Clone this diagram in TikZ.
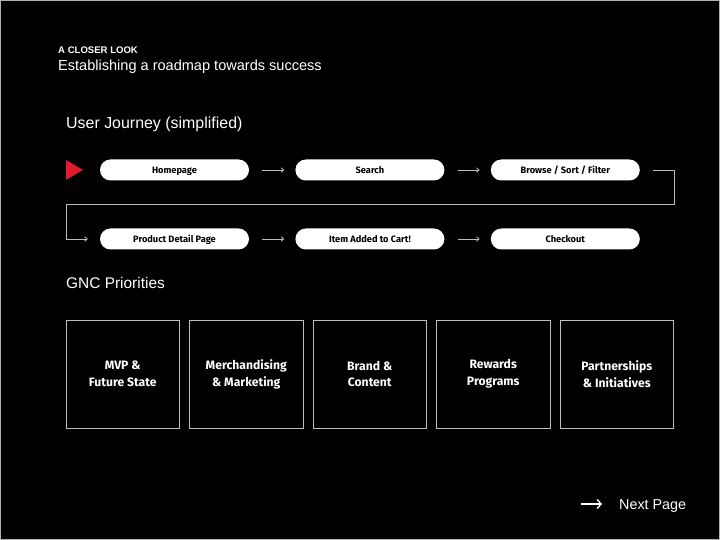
\documentclass[tikz,border=0pt]{standalone}
\usepackage{fontspec}
\setmainfont{Liberation Sans}
\newfontfamily\pillfont{Fira Sans}
\usetikzlibrary{positioning,arrows.meta}
\definecolor{gncred}{HTML}{E3192D}
\definecolor{linegray}{HTML}{BDBDBD}

\begin{document}
\begin{tikzpicture}[x=1bp,y=1bp,>={Straight Barb[length=2.5bp,width=4.5bp]},node distance=46bp,
    pill/.style={fill=white,rounded corners=10.5bp,minimum width=149bp,minimum height=21bp,inner sep=0pt,text height=6.4bp,text depth=0bp,font=\pillfont\bfseries\fontsize{9.3}{10}\selectfont},
    prio/.style={draw=linegray,line width=0.9bp,minimum width=113.5bp,minimum height=108bp,inner sep=0pt,align=center,text=white,font=\pillfont\bfseries\fontsize{12.2}{17}\selectfont},
    title/.style={anchor=base west,inner sep=0pt,text=white}]
            \fill[black] (0,0) rectangle (720,540);
            \draw[gray!60,line width=1bp] (0.5,0.5) rectangle (719.5,539.5);

            \node[title,font=\bfseries\fontsize{9.6}{11}\selectfont] (kicker) at (58,486) {A CLOSER LOOK};
            \node[title,font=\fontsize{14.6}{17}\selectfont] (sub) at (58,469) {Establishing a roadmap towards success};
            \node[title,font=\fontsize{16}{19}\selectfont] (uj) at (66,411) {User Journey (simplified)};
            \node[title,font=\fontsize{15.5}{18}\selectfont] (gnc) at (66,251) {GNC Priorities};

            % journey, first row
            \fill[gncred] (66,380) -- (83,370) -- (66,360) -- cycle;
            \node[pill] (hp) at (174.5,370) {Homepage};
            \node[pill] (sr) [right=of hp] {Search};
            \node[pill] (bs) [right=of sr] {Browse / Sort / Filter};

            % journey, second row
            \node[pill] (pd) at (174.5,301) {Product Detail Page};
            \node[pill] (ic) [right=of pd] {Item Added to Cart!};
            \node[pill] (co) [right=of ic] {Checkout};

            \coordinate (wrap) at (66,336);

            \path[->,draw=linegray,line width=0.8bp,shorten <=13bp,shorten >=11bp]
                (hp) edge (sr)
                (sr) edge (bs)
                (pd) edge (ic)
                (ic) edge (co)
                ;
            \draw[->,linegray,line width=0.8bp,shorten <=13bp,shorten >=12bp]
                (bs.east) -| ([xshift=34bp]bs.east |- wrap) -- (wrap) |- (pd.west);

            % priorities
            \node[prio] (mvp) at (122.75,166) {MVP \&\\Future State};
            \node[prio] (mm) [right=9.1bp of mvp] {Merchandising\\\& Marketing};
            \node[prio] (bc) [right=9.1bp of mm] {Brand \&\\Content};
            \node[prio] (rp) [right=9.1bp of bc] {Rewards\\Programs};
            \node[prio] (pi) [right=9.1bp of rp] {Partnerships\\\& Initiatives};

            % footer
            \node[title,font=\fontsize{14.4}{16}\selectfont] (next) at (619,30) {Next Page};
            \coordinate (nx) at (581,36);
            \draw[-{Straight Barb[length=4bp,width=9bp]},white,line width=1.3bp] (nx) -- ([xshift=-17bp]next.west |- nx);
\end{tikzpicture}
\end{document}
